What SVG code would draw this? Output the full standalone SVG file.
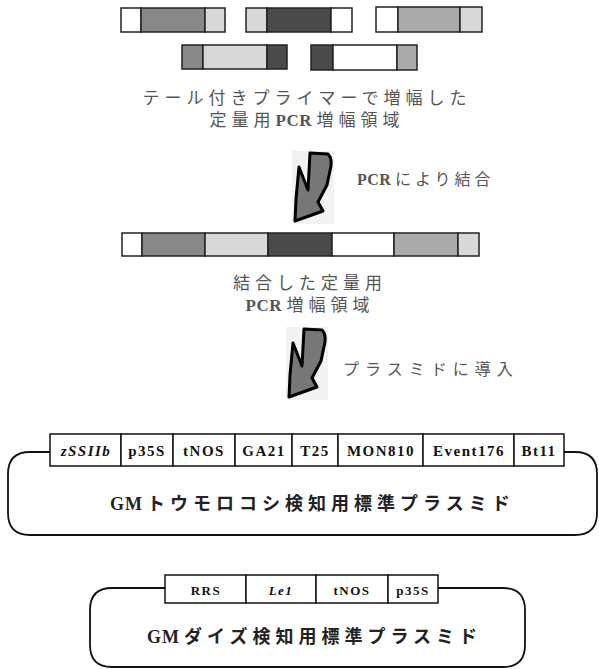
<svg xmlns="http://www.w3.org/2000/svg" width="599" height="669" viewBox="0 0 599 669">
<style>
.seg{stroke:#222;stroke-width:1.5}
.w{fill:#fff}.m{fill:#888}.l{fill:#d8d8d8}.d{fill:#4a4a4a}.g{fill:#aaa}
.cap{font-family:"Liberation Serif","Noto Sans CJK JP",serif;font-size:17px;fill:#555;letter-spacing:5px}
.pcr{font-weight:bold;letter-spacing:0.5px}
.gene{font-family:"Liberation Serif",serif;font-weight:bold;font-size:15px;fill:#111;text-anchor:middle;letter-spacing:1.5px}
.gbox{fill:#fff;stroke:#111;stroke-width:1.5}
.title{font-family:"Liberation Serif","Noto Sans CJK JP",serif;font-weight:bold;font-size:18px;fill:#222;letter-spacing:5px}
.bb{fill:none;stroke:#111;stroke-width:1.8}
.arrow{fill:#777;stroke:#000;stroke-width:3;stroke-linejoin:round}
</style>
<defs>
<g id="bolt">
<rect x="292" y="151" width="42" height="73" fill="#f2f2f2"/>
<path class="arrow" d="M310 153 L328 154 Q332 158 331 166 L327 185 L318 202 L323 211 L295 221 L296 199 L299 167 L308 190 Z"/>
</g>
</defs>
<g id="fragments">
<g id="frag1">
<rect class="seg w" x="121" y="8" width="20" height="24"/><rect class="seg m" x="141" y="8" width="64" height="24"/><rect class="seg l" x="205" y="8" width="20" height="24"/>
</g>
<g id="frag2">
<rect class="seg l" x="246" y="8" width="21" height="24"/><rect class="seg d" x="267" y="8" width="64" height="24"/><rect class="seg w" x="331" y="8" width="21" height="24"/>
</g>
<g id="frag3">
<rect class="seg w" x="376" y="7" width="22" height="25"/><rect class="seg g" x="398" y="7" width="62" height="25"/><rect class="seg l" x="460" y="7" width="22" height="25"/>
</g>
<g id="frag4">
<rect class="seg m" x="182" y="45" width="21" height="24"/><rect class="seg l" x="203" y="45" width="64" height="24"/><rect class="seg d" x="267" y="45" width="20" height="24"/>
</g>
<g id="frag5">
<rect class="seg d" x="311" y="45" width="22" height="25"/><rect class="seg w" x="333" y="45" width="64" height="25"/><rect class="seg g" x="397" y="45" width="20" height="25"/>
</g>
</g>
<g id="caption1">
<text class="cap" x="307" y="104" text-anchor="middle">テール付きプライマーで増幅した</text>
<text class="cap" x="307" y="126" text-anchor="middle">定量用<tspan class="pcr">PC</tspan><tspan font-weight="bold">R</tspan>増幅領域</text>
</g>
<g id="connectors">
<use href="#bolt"/>
<use href="#bolt" transform="translate(-6,176)"/>
</g>
<text class="cap" x="357" y="185" style="font-size:16px;letter-spacing:4px"><tspan class="pcr">PC</tspan><tspan font-weight="bold">R</tspan>により結合</text>
<g id="joined">
<rect class="seg w" x="122" y="233" width="20" height="23"/>
<rect class="seg m" x="142" y="233" width="63" height="23"/>
<rect class="seg l" x="205" y="233" width="63" height="23"/>
<rect class="seg d" x="268" y="233" width="64" height="23"/>
<rect class="seg w" x="332" y="233" width="62" height="23"/>
<rect class="seg g" x="394" y="233" width="64" height="23"/>
<rect class="seg l" x="458" y="233" width="21" height="23"/>
</g>
<g id="caption2">
<text class="cap" x="310" y="289" text-anchor="middle">結合した定量用</text>
<text class="cap" x="310" y="311" text-anchor="middle"><tspan class="pcr">PC</tspan><tspan font-weight="bold">R</tspan>増幅領域</text>
</g>
<text class="cap" x="343" y="375" style="font-size:16px;letter-spacing:6px">プラスミドに導入</text>
<g id="corn-plasmid">
<path class="bb" d="M50 452 H30 Q8 452 8 474 V513 Q8 535 30 535 H575 Q597 535 597 513 V474 Q597 452 575 452 H564"/>
<rect class="gbox" x="50" y="434" width="71" height="32"/>
<rect class="gbox" x="121" y="434" width="52" height="32"/>
<rect class="gbox" x="173" y="434" width="62" height="32"/>
<rect class="gbox" x="235" y="434" width="57" height="32"/>
<rect class="gbox" x="292" y="434" width="46" height="32"/>
<rect class="gbox" x="338" y="434" width="85" height="32"/>
<rect class="gbox" x="423" y="434" width="91" height="32"/>
<rect class="gbox" x="514" y="434" width="50" height="32"/>
<text class="gene" x="86" y="456" font-style="italic">zSSIIb</text>
<text class="gene" x="147" y="456">p35S</text>
<text class="gene" x="204" y="456">tNOS</text>
<text class="gene" x="264" y="456">GA21</text>
<text class="gene" x="315" y="456">T25</text>
<text class="gene" x="381" y="456">MON810</text>
<text class="gene" x="469" y="456">Event176</text>
<text class="gene" x="539" y="456">Bt11</text>
<text class="title" x="110" y="510"><tspan letter-spacing="1px">G</tspan>Mトウモロコシ検知用標準プラスミド</text>
</g>
<g id="soy-plasmid">
<path class="bb" d="M165 588 H112 Q90 588 90 610 V645 Q90 667 112 667 H503 Q525 667 525 645 V610 Q525 588 503 588 H438"/>
<rect class="gbox" x="165" y="575" width="81" height="28"/>
<rect class="gbox" x="246" y="575" width="70" height="28"/>
<rect class="gbox" x="316" y="575" width="72" height="28"/>
<rect class="gbox" x="388" y="575" width="50" height="28"/>
<text class="gene" x="206" y="595" style="font-size:13px">RRS</text>
<text class="gene" x="281" y="595" style="font-size:13px" font-style="italic">Le1</text>
<text class="gene" x="352" y="595" style="font-size:13px">tNOS</text>
<text class="gene" x="413" y="595" style="font-size:13px">p35S</text>
<text class="title" x="147" y="643"><tspan letter-spacing="1px">G</tspan>Mダイズ検知用標準プラスミド</text>
</g>
</svg>
